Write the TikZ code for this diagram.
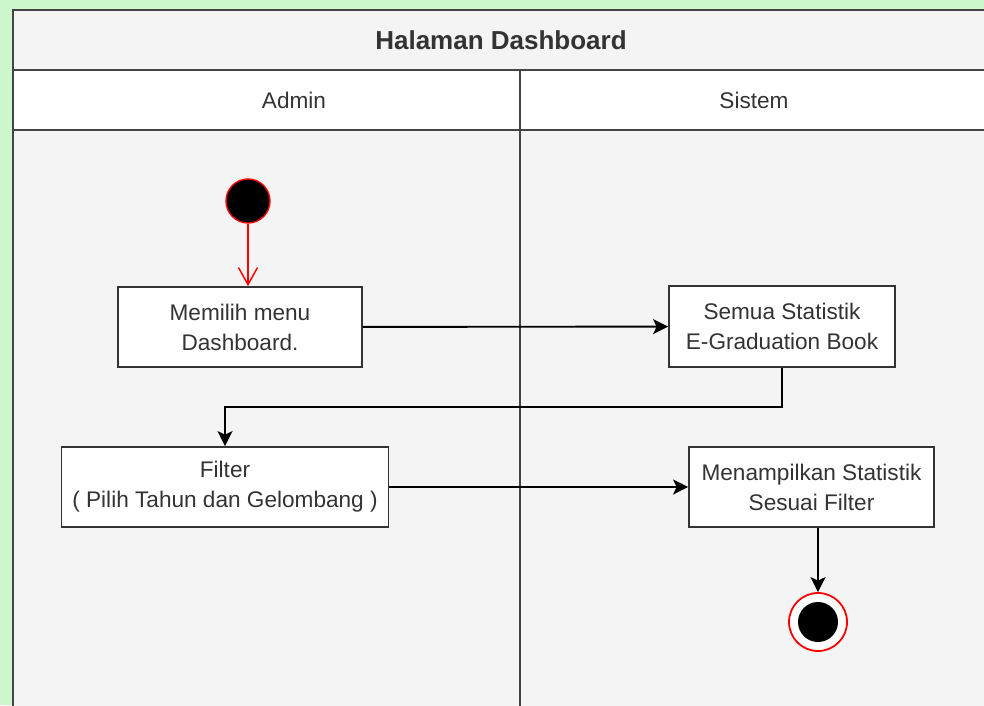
\documentclass[tikz,border=0pt]{standalone}
\usepackage{fontspec}
\setmainfont{Liberation Sans}
\usetikzlibrary{arrows.meta}
\definecolor{pageGreen}{HTML}{CCF7CC}
\definecolor{laneFill}{HTML}{F4F4F4}
\definecolor{ink}{HTML}{333333}
\definecolor{frameGray}{HTML}{444444}
\begin{document}
\begin{tikzpicture}[x=1pt,y=-1pt,
  frameline/.style={draw=frameGray,line width=2pt},
  laneline/.style={draw=frameGray,line width=1.3pt},
  actbox/.style={draw=ink,fill=white,line width=1.8pt,inner sep=0pt,align=center,
    text=ink,font=\fontsize{22.6}{30}\selectfont},
  flow/.style={draw=black,line width=1.9pt,-{Stealth[length=15pt,width=15pt,inset=3.5pt]}},
  startflow/.style={draw=red,line width=1.5pt,-{Straight Barb[length=17pt,width=19pt]}},
  lanelabel/.style={text=ink,font=\fontsize{22.6}{26}\selectfont},
  titlelabel/.style={text=ink,font=\bfseries\fontsize{26}{30}\selectfont}]
\useasboundingbox (0,0) rectangle (984,705);
\fill[pageGreen] (0,0) rectangle (984,705);
% swimlane container
\fill[laneFill] (13,10) rectangle (990,710);
\fill[white] (13,70) rectangle (990,130);
\draw[frameline] (13,710) -- (13,10) -- (990,10);
\draw[frameline] (13,70) -- (990,70);
\draw[frameline] (13,130) -- (990,130);
\draw[laneline] (520,70) -- (520,710);
\node[titlelabel] (title) at (501,40) {Halaman Dashboard};
\node[lanelabel] (admin) at (294,100) {Admin};
\node[lanelabel] (sistem) at (754,100) {Sistem};
% activities
\node[circle,fill=black,draw=red,line width=1.4pt,minimum size=44pt,inner sep=0pt] (start) at (248,201) {};
\node[actbox,minimum width=244pt,minimum height=80pt] (menu) at (240,327) {Memilih menu\\Dashboard.};
\node[actbox,minimum width=226pt,minimum height=81pt] (semua) at (782,326.5) {Semua Statistik\\E-Graduation Book};
\node[actbox,minimum width=327pt,minimum height=80pt] (filter) at (225,487) {Filter\\( Pilih Tahun dan Gelombang )};
\node[actbox,minimum width=245pt,minimum height=80pt] (tampil) at (811.5,487) {Menampilkan Statistik\\Sesuai Filter};
\node[circle,draw=red,fill=white,line width=1.8pt,minimum size=58pt,inner sep=0pt] (end) at (818,622) {};
\node[circle,fill=black,minimum size=40pt,inner sep=0pt] (endcore) at (end) {};
% control flow
\draw[startflow] (start) -- (start |- menu.north);
\draw[flow] (menu) -- (semua);
\draw[flow] (semua.south) -- ++(0,39) -| (filter.north);
\draw[flow] (filter) -- (tampil);
\draw[flow] (tampil.south -| end) -- (end.north);
\end{tikzpicture}
\end{document}
